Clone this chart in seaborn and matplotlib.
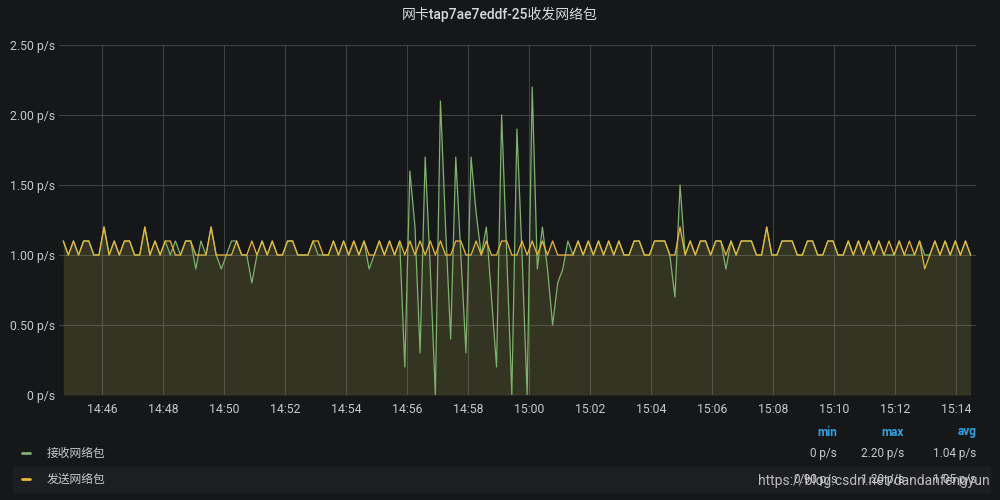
import pandas as pd
import seaborn as sns
import matplotlib.pyplot as plt
import matplotlib.dates as mdates
from matplotlib.lines import Line2D
from matplotlib.patches import Rectangle

# chart data
title = '网卡tap7ae7eddf-25收发网络包'
series_names = ['接收网络包', '发送网络包']
series_colors = ['#7EB26D', '#EAB839']
y_ticks = [0, 0.5, 1.0, 1.5, 2.0, 2.5]
y_labels = ['0 p/s', '0.50 p/s', '1.00 p/s', '1.50 p/s', '2.00 p/s', '2.50 p/s']
stat_names = ['min', 'max', 'avg']
recv_stats = ['0 p/s', '2.20 p/s', '1.04 p/s']
send_stats = ['0.90 p/s', '1.20 p/s', '1.05 p/s']
watermark = 'https://blog.csdn.net/dandanfengyun'

recv = [1.1, 1.0, 1.1, 1.0, 1.1, 1.1, 1.0, 1.0, 1.2, 1.0,
        1.1, 1.0, 1.1, 1.1, 1.0, 1.0, 1.2, 1.0, 1.1, 1.0,
        1.1, 1.0, 1.1, 1.0, 1.1, 1.1, 0.9, 1.1, 1.0, 1.2,
        1.0, 0.9, 1.0, 1.1, 1.1, 1.0, 1.0, 0.8, 1.0, 1.1,
        1.0, 1.1, 1.0, 1.0, 1.1, 1.1, 1.0, 1.0, 1.0, 1.1,
        1.0, 1.0, 1.0, 1.1, 1.0, 1.1, 1.0, 1.1, 1.0, 1.1,
        0.9, 1.0, 1.1, 1.0, 1.1, 1.0, 1.1, 0.2, 1.6, 1.2,
        0.3, 1.7, 0.9, 0.0, 2.1, 1.2, 0.4, 1.7, 1.0, 0.3,
        1.7, 1.3, 1.0, 1.2, 0.7, 0.2, 2.0, 1.0, 0.0, 1.9,
        1.0, 0.0, 2.2, 0.9, 1.2, 0.9, 0.5, 0.8, 0.9, 1.1,
        1.0, 1.1, 1.0, 1.1, 1.0, 1.1, 1.0, 1.1, 1.0, 1.1,
        1.0, 1.0, 1.1, 1.1, 1.0, 1.0, 1.1, 1.1, 1.1, 1.0,
        0.7, 1.5, 1.0, 1.1, 1.0, 1.1, 1.1, 1.0, 1.1, 1.1,
        0.9, 1.1, 1.0, 1.1, 1.1, 1.1, 1.0, 1.0, 1.2, 1.0,
        1.0, 1.1, 1.1, 1.1, 1.0, 1.0, 1.1, 1.1, 1.0, 1.0,
        1.1, 1.1, 1.0, 1.0, 1.1, 1.0, 1.1, 1.0, 1.1, 1.0,
        1.1, 1.0, 1.0, 1.0, 1.1, 1.0, 1.0, 1.0, 1.1, 1.0,
        1.0, 1.1, 1.0, 1.1, 1.0, 1.1, 1.0, 1.1, 1.0]

send = [1.1, 1.0, 1.1, 1.0, 1.1, 1.1, 1.0, 1.0, 1.2, 1.0,
        1.1, 1.0, 1.1, 1.1, 1.0, 1.0, 1.2, 1.0, 1.1, 1.0,
        1.1, 1.1, 1.0, 1.0, 1.1, 1.1, 1.0, 1.0, 1.0, 1.2,
        1.0, 1.0, 1.0, 1.0, 1.1, 1.0, 1.0, 1.1, 1.0, 1.1,
        1.0, 1.1, 1.0, 1.0, 1.1, 1.1, 1.0, 1.0, 1.0, 1.1,
        1.1, 1.0, 1.0, 1.1, 1.0, 1.1, 1.0, 1.1, 1.0, 1.1,
        1.0, 1.0, 1.1, 1.0, 1.1, 1.0, 1.1, 1.0, 1.1, 1.0,
        1.1, 1.0, 1.1, 1.0, 1.1, 1.0, 1.0, 1.1, 1.1, 1.0,
        1.0, 1.1, 1.0, 1.1, 1.0, 1.0, 1.1, 1.1, 1.0, 1.0,
        1.1, 1.0, 1.1, 1.0, 1.1, 1.0, 1.1, 1.0, 1.0, 1.0,
        1.0, 1.1, 1.0, 1.1, 1.0, 1.1, 1.0, 1.1, 1.0, 1.1,
        1.0, 1.0, 1.1, 1.1, 1.0, 1.0, 1.1, 1.1, 1.1, 1.0,
        1.0, 1.2, 1.0, 1.1, 1.0, 1.1, 1.1, 1.0, 1.1, 1.1,
        1.0, 1.1, 1.0, 1.1, 1.1, 1.1, 1.0, 1.0, 1.2, 1.0,
        1.0, 1.1, 1.1, 1.1, 1.0, 1.0, 1.1, 1.1, 1.0, 1.0,
        1.1, 1.1, 1.0, 1.0, 1.1, 1.0, 1.1, 1.0, 1.1, 1.0,
        1.1, 1.0, 1.1, 1.0, 1.1, 1.0, 1.1, 1.0, 1.1, 0.9,
        1.0, 1.1, 1.0, 1.1, 1.0, 1.1, 1.0, 1.1, 1.0]

# samples roughly every 10 s
times = pd.date_range('2020-06-01 14:44:43', periods=len(send), freq='10030ms')

df = pd.DataFrame({
    'time': list(times) * 2,
    'value': recv + send,
    'series': [series_names[0]] * len(recv) + [series_names[1]] * len(send),
})

# Grafana dark look
bg = '#161719'
text_col = '#c7c8ca'
grid_col = '#3f4044'

sns.set_style('dark')
plt.rcParams['font.family'] = ['Roboto', 'Noto Sans CJK SC', 'DejaVu Sans']

fig = plt.figure(figsize=(10, 5), dpi=100, facecolor=bg)
ax = fig.add_axes([0.0587, 0.21, 0.9173, 0.70])
ax.set_facecolor(bg)

sns.lineplot(data=df, x='time', y='value', hue='series', hue_order=series_names,
             palette=series_colors, linewidth=0.9, legend=False, ax=ax)
for name, col in zip(series_names, series_colors):
    sub = df[df['series'] == name]
    ax.fill_between(sub['time'], 0, sub['value'], color=col, alpha=0.1, linewidth=0)

ax.set_xlim(pd.Timestamp('2020-06-01 14:44:34'), pd.Timestamp('2020-06-01 15:14:39'))
ax.set_ylim(0, 2.5)
ax.set_yticks(y_ticks)
ax.set_yticklabels(y_labels)
ax.xaxis.set_major_locator(mdates.MinuteLocator(byminute=range(0, 60, 2)))
ax.xaxis.set_major_formatter(mdates.DateFormatter('%H:%M'))
ax.set_xlabel('')
ax.set_ylabel('')
ax.tick_params(axis='both', length=0, colors=text_col, labelsize=8.8)
ax.tick_params(axis='y', pad=2.5)
ax.tick_params(axis='x', pad=6)
ax.grid(True, color=grid_col, linewidth=0.8)
ax.set_axisbelow(True)
for s in ax.spines.values():
    s.set_visible(False)

fig.text(0.5, 0.972, title, ha='center', va='center', color='#d8d9da',
         fontsize=10, fontweight='medium')

# legend table
stat_right = [0.837, 0.904, 0.976]
for x, name in zip(stat_right, stat_names):
    fig.text(x, 1 - 432 / 500, name, ha='right', va='center', color='#33a2e5',
             fontsize=8.5, fontweight='bold')

fig.add_artist(Rectangle((0.013, 1 - 492 / 500), 0.977, 25 / 500,
                         transform=fig.transFigure, color='#1d1e21', zorder=0))

rows = [(453, series_colors[0], series_names[0], recv_stats),
        (479, series_colors[1], series_names[1], send_stats)]
for ypx, col, name, stats in rows:
    yy = 1 - ypx / 500
    fig.add_artist(Line2D([0.022, 0.030], [yy, yy], transform=fig.transFigure,
                          color=col, linewidth=2))
    fig.text(0.047, yy, name, ha='left', va='center', color=text_col, fontsize=8.5)
    for x, v in zip(stat_right, stats):
        fig.text(x, yy, v, ha='right', va='center', color=text_col, fontsize=8.5)

fig.text(0.99, 1 - 481 / 500, watermark, ha='right', va='center',
         color='#d8d8d8', alpha=0.85, fontsize=10)

fig.savefig('out.png', dpi=100, facecolor=bg)
